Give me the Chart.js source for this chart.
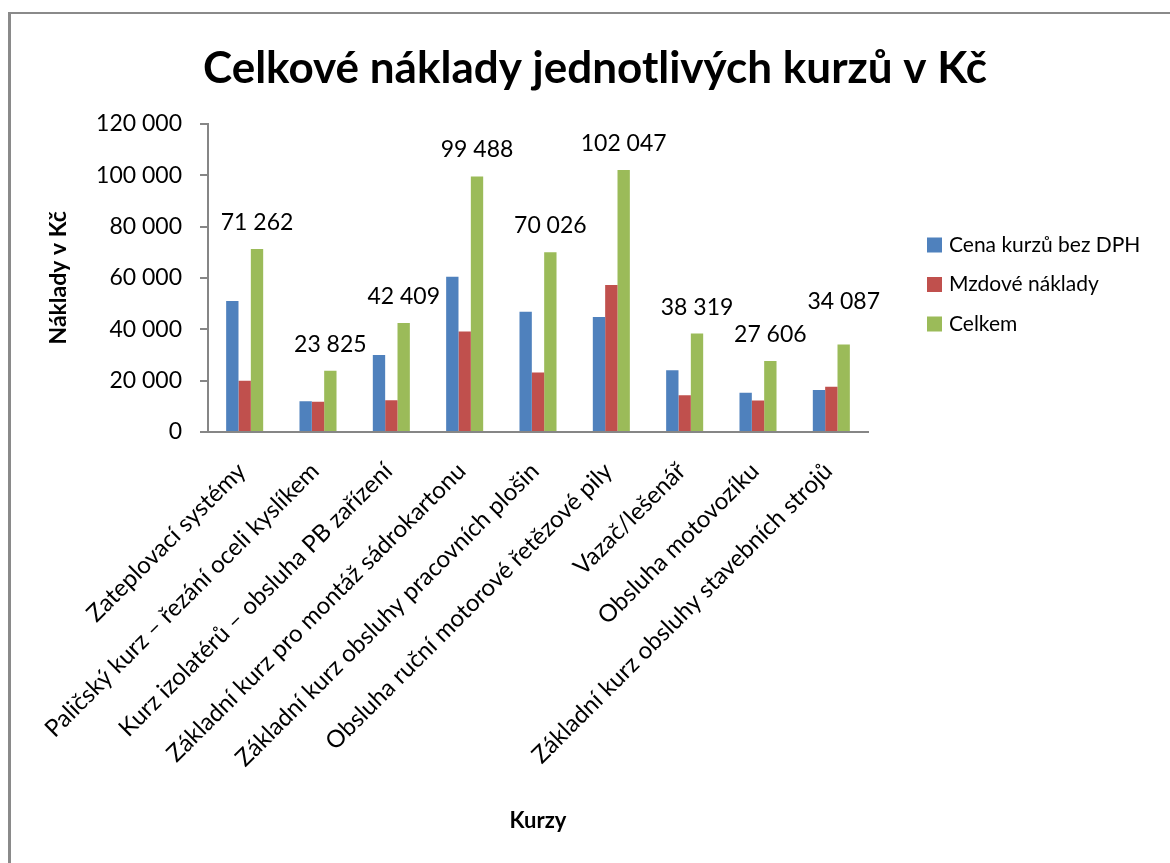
<!DOCTYPE html>
<html>
<head>
<meta charset="utf-8">
<script src="https://cdn.jsdelivr.net/npm/chart.js@4.4.1/dist/chart.umd.min.js"></script>
<style>
  html, body { margin: 0; padding: 0; background: #fff; }
  #wrap { position: relative; width: 1170px; height: 863px; overflow: hidden; }
  #frame { position: absolute; left: 8px; top: 12px; width: 1200px; height: 900px;
           border-left: 3px solid #8a8a8a; border-top: 2px solid #8a8a8a; }
  #c { position: absolute; left: 0; top: 0; }
</style>
</head>
<body>
<div id="wrap">
  <div id="frame"></div>
  <canvas id="c" width="1170" height="863"></canvas>
</div>
<script>
const chartTitle = "Celkové náklady jednotlivých kurzů v Kč";
const yAxisTitle = "Náklady v Kč";
const xAxisTitle = "Kurzy";
const categories = [
  "Zateplovací systémy",
  "Paličský kurz – řezání oceli kyslíkem",
  "Kurz izolatérů – obsluha PB zařízení",
  "Základní kurz pro montáž sádrokartonu",
  "Základní kurz obsluhy pracovních plošin",
  "Obsluha ruční motorové řetězové pily",
  "Vazač/lešenář",
  "Obsluha motovozíku",
  "Základní kurz obsluhy stavebních strojů"
];
const seriesNames = ["Cena kurzů bez DPH", "Mzdové náklady", "Celkem"];
const cenaKurzu = [51000, 12000, 30000, 60400, 46800, 44800, 24000, 15300, 16400];
const mzdoveNaklady = [20000, 11800, 12400, 39100, 23200, 57200, 14300, 12300, 17600];
const celkem = [71262, 23825, 42409, 99488, 70026, 102047, 38319, 27606, 34087];
const yTicks = [0, 20000, 40000, 60000, 80000, 100000, 120000];

const fmt = v => String(v).replace(/\B(?=(\d{3})+(?!\d))/g, ' ');
const FONT = 'Lato, "Open Sans", sans-serif';

const labelPlugin = {
  id: 'totalLabels',
  afterDatasetsDraw(chart, args, opts) {
    const ctx = chart.ctx;
    const meta = chart.getDatasetMeta(2);
    const ds = chart.data.datasets[2];
    ctx.save();
    ctx.font = '23px ' + FONT;
    ctx.fillStyle = '#000';
    ctx.textAlign = 'center';
    ctx.textBaseline = 'alphabetic';
    meta.data.forEach((bar, i) => {
      const lift = (opts.lift && opts.lift[i]) || 0;
      ctx.fillText(fmt(ds.data[i]), bar.x, bar.y - 19 - lift);
    });
    ctx.restore();
  }
};

const legendPlugin = {
  id: 'sideLegend',
  afterDraw(chart, args, opts) {
    const ctx = chart.ctx;
    ctx.save();
    ctx.font = '21px ' + FONT;
    ctx.textBaseline = 'middle';
    ctx.textAlign = 'left';
    chart.data.datasets.forEach((ds, i) => {
      const cy = opts.top + i * opts.step;
      ctx.fillStyle = ds.backgroundColor;
      ctx.fillRect(opts.left, cy - 7.5, 15, 15);
      ctx.fillStyle = '#000';
      ctx.fillText(ds.label, opts.left + 22, cy);
    });
    ctx.restore();
  }
};

new Chart(document.getElementById('c'), {
  type: 'bar',
  data: {
    labels: categories,
    datasets: [
      { label: seriesNames[0], data: cenaKurzu, backgroundColor: '#4F81BD' },
      { label: seriesNames[1], data: mzdoveNaklady, backgroundColor: '#C0504D' },
      { label: seriesNames[2], data: celkem, backgroundColor: '#9BBB59' }
    ]
  },
  plugins: [labelPlugin, legendPlugin],
  options: {
    responsive: false,
    animation: false,
    devicePixelRatio: 1,
    layout: { padding: { left: 20, right: 0, top: 14, bottom: 20 } },
    datasets: { bar: { categoryPercentage: 0.505, barPercentage: 1.0 } },
    plugins: {
      legend: { display: false },
      tooltip: { enabled: false },
      title: {
        display: true,
        text: chartTitle,
        color: '#000',
        font: { family: FONT, size: 44, weight: 'bold' },
        padding: { top: 28, bottom: 29 }
      },
      totalLabels: { lift: [0, 0, 0, 0, 0, 0, 0, 0, 16] },
      sideLegend: { left: 927, top: 245, step: 39.5 }
    },
    scales: {
      x: {
        afterFit(scale) { scale.height = 411; },
        grid: { display: true, drawOnChartArea: false, drawTicks: false, color: 'rgba(0,0,0,0)' },
        border: { display: true, color: '#868686', width: 2 },
        ticks: {
          autoSkip: false, maxRotation: 45, minRotation: 45,
          color: '#000', padding: 25, labelOffset: -3,
          font: { family: FONT, size: 24 }
        },
        title: {
          display: true, text: xAxisTitle, color: '#000',
          font: { family: FONT, size: 22, weight: 'bold' },
          padding: { top: 0, bottom: 9 }
        }
      },
      y: {
        min: 0, max: 120000,
        afterFit(scale) { scale.width = 188; },
        afterBuildTicks(scale) { scale.ticks = yTicks.map(v => ({ value: v })); },
        grid: { display: true, drawOnChartArea: false, drawTicks: true, tickLength: 8, color: '#868686', lineWidth: 2 },
        border: { display: true, color: '#868686', width: 2 },
        ticks: {
          color: '#000', padding: 18,
          font: { family: FONT, size: 23 },
          callback: v => fmt(v)
        },
        title: {
          display: true, text: yAxisTitle, color: '#000',
          font: { family: FONT, size: 23, weight: 'bold' },
          padding: { top: 25, bottom: 0 }
        }
      },
      side: {
        type: 'linear',
        position: 'right',
        display: true,
        afterFit(scale) { scale.width = 302; },
        grid: { display: false },
        border: { display: false },
        ticks: { display: false }
      }
    }
  }
});
</script>
</body>
</html>
